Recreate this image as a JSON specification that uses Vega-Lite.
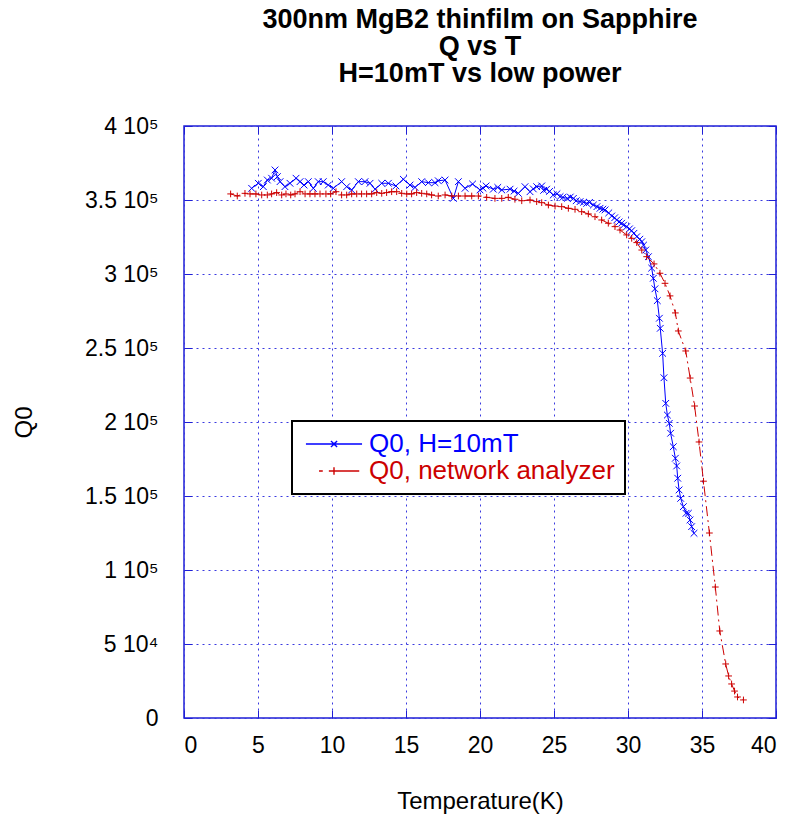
{
  "$schema": "https://vega.github.io/schema/vega-lite/v6.json",
  "width": 592,
  "height": 592,
  "autosize": {"type": "none"},
  "padding": {"left": 184, "top": 126, "right": 16, "bottom": 101},
  "background": "white",
  "title": {
    "text": ["300nm MgB2 thinfilm on Sapphire", "Q vs T", "H=10mT vs low power"],
    "font": "Liberation Sans", "fontSize": 27, "fontWeight": "bold", "lineHeight": 27,
    "anchor": "middle", "offset": 0, "baseline": "bottom", "color": "black"
  },
  "config": {
    "view": {"stroke": "#1f1fd6", "strokeWidth": 1.5},
    "axis": {
      "labelFont": "Liberation Sans", "titleFont": "Liberation Sans",
      "labelFontSize": 23, "titleFontSize": 24, "titleFontWeight": "normal",
      "labelColor": "black", "titleColor": "black",
      "domain": false, "tickColor": "#1f1fd6", "tickSize": -8, "tickWidth": 1,
      "gridColor": "#3a3ae0", "gridDash": [2, 4], "gridWidth": 1, "gridOpacity": 1
    },
    "legend": {"labelFont": "Liberation Sans", "labelFontSize": 26}
  },
  "data": {"values": [
    {"series": "Q0, H=10mT", "T": 4.57, "Q": 357900},
    {"series": "Q0, H=10mT", "T": 5.02, "Q": 361300},
    {"series": "Q0, H=10mT", "T": 5.36, "Q": 359000},
    {"series": "Q0, H=10mT", "T": 5.63, "Q": 363500},
    {"series": "Q0, H=10mT", "T": 5.92, "Q": 364700},
    {"series": "Q0, H=10mT", "T": 6.15, "Q": 370300},
    {"series": "Q0, H=10mT", "T": 6.31, "Q": 365800},
    {"series": "Q0, H=10mT", "T": 6.49, "Q": 362400},
    {"series": "Q0, H=10mT", "T": 6.82, "Q": 359000},
    {"series": "Q0, H=10mT", "T": 7.16, "Q": 361300},
    {"series": "Q0, H=10mT", "T": 7.57, "Q": 364700},
    {"series": "Q0, H=10mT", "T": 7.84, "Q": 362400},
    {"series": "Q0, H=10mT", "T": 8.11, "Q": 360100},
    {"series": "Q0, H=10mT", "T": 8.40, "Q": 362400},
    {"series": "Q0, H=10mT", "T": 8.74, "Q": 357900},
    {"series": "Q0, H=10mT", "T": 9.07, "Q": 362400},
    {"series": "Q0, H=10mT", "T": 9.41, "Q": 362400},
    {"series": "Q0, H=10mT", "T": 9.75, "Q": 360100},
    {"series": "Q0, H=10mT", "T": 10.09, "Q": 357900},
    {"series": "Q0, H=10mT", "T": 10.65, "Q": 362400},
    {"series": "Q0, H=10mT", "T": 10.99, "Q": 359000},
    {"series": "Q0, H=10mT", "T": 11.33, "Q": 356800},
    {"series": "Q0, H=10mT", "T": 11.78, "Q": 362400},
    {"series": "Q0, H=10mT", "T": 12.23, "Q": 362400},
    {"series": "Q0, H=10mT", "T": 12.57, "Q": 361300},
    {"series": "Q0, H=10mT", "T": 12.91, "Q": 357300},
    {"series": "Q0, H=10mT", "T": 13.36, "Q": 361300},
    {"series": "Q0, H=10mT", "T": 13.81, "Q": 361300},
    {"series": "Q0, H=10mT", "T": 14.32, "Q": 359500},
    {"series": "Q0, H=10mT", "T": 14.82, "Q": 364000},
    {"series": "Q0, H=10mT", "T": 15.27, "Q": 360100},
    {"series": "Q0, H=10mT", "T": 15.61, "Q": 358500},
    {"series": "Q0, H=10mT", "T": 16.06, "Q": 362400},
    {"series": "Q0, H=10mT", "T": 16.51, "Q": 361700},
    {"series": "Q0, H=10mT", "T": 16.96, "Q": 361700},
    {"series": "Q0, H=10mT", "T": 17.18, "Q": 363000},
    {"series": "Q0, H=10mT", "T": 17.64, "Q": 363500},
    {"series": "Q0, H=10mT", "T": 18.20, "Q": 351100},
    {"series": "Q0, H=10mT", "T": 18.54, "Q": 362400},
    {"series": "Q0, H=10mT", "T": 18.99, "Q": 357900},
    {"series": "Q0, H=10mT", "T": 19.50, "Q": 360800},
    {"series": "Q0, H=10mT", "T": 20.00, "Q": 356800},
    {"series": "Q0, H=10mT", "T": 20.20, "Q": 358000},
    {"series": "Q0, H=10mT", "T": 20.41, "Q": 359500},
    {"series": "Q0, H=10mT", "T": 20.90, "Q": 357300},
    {"series": "Q0, H=10mT", "T": 21.20, "Q": 358500},
    {"series": "Q0, H=10mT", "T": 21.47, "Q": 356800},
    {"series": "Q0, H=10mT", "T": 22.03, "Q": 357300},
    {"series": "Q0, H=10mT", "T": 22.30, "Q": 356000},
    {"series": "Q0, H=10mT", "T": 22.59, "Q": 354500},
    {"series": "Q0, H=10mT", "T": 23.04, "Q": 359000},
    {"series": "Q0, H=10mT", "T": 23.38, "Q": 355600},
    {"series": "Q0, H=10mT", "T": 23.60, "Q": 357500},
    {"series": "Q0, H=10mT", "T": 23.83, "Q": 359000},
    {"series": "Q0, H=10mT", "T": 24.17, "Q": 359500},
    {"series": "Q0, H=10mT", "T": 24.30, "Q": 356500},
    {"series": "Q0, H=10mT", "T": 24.50, "Q": 357300},
    {"series": "Q0, H=10mT", "T": 24.70, "Q": 355800},
    {"series": "Q0, H=10mT", "T": 24.95, "Q": 353400},
    {"series": "Q0, H=10mT", "T": 25.20, "Q": 354200},
    {"series": "Q0, H=10mT", "T": 25.41, "Q": 352300},
    {"series": "Q0, H=10mT", "T": 25.60, "Q": 351800},
    {"series": "Q0, H=10mT", "T": 25.90, "Q": 351100},
    {"series": "Q0, H=10mT", "T": 26.10, "Q": 352000},
    {"series": "Q0, H=10mT", "T": 26.31, "Q": 351100},
    {"series": "Q0, H=10mT", "T": 26.50, "Q": 349500},
    {"series": "Q0, H=10mT", "T": 26.76, "Q": 348900},
    {"series": "Q0, H=10mT", "T": 27.00, "Q": 348500},
    {"series": "Q0, H=10mT", "T": 27.21, "Q": 347700},
    {"series": "Q0, H=10mT", "T": 27.40, "Q": 348400},
    {"series": "Q0, H=10mT", "T": 27.66, "Q": 346600},
    {"series": "Q0, H=10mT", "T": 27.90, "Q": 345500},
    {"series": "Q0, H=10mT", "T": 28.11, "Q": 344400},
    {"series": "Q0, H=10mT", "T": 28.30, "Q": 343800},
    {"series": "Q0, H=10mT", "T": 28.45, "Q": 343300},
    {"series": "Q0, H=10mT", "T": 28.70, "Q": 341300},
    {"series": "Q0, H=10mT", "T": 28.90, "Q": 339200},
    {"series": "Q0, H=10mT", "T": 29.10, "Q": 338000},
    {"series": "Q0, H=10mT", "T": 29.24, "Q": 336500},
    {"series": "Q0, H=10mT", "T": 29.40, "Q": 335200},
    {"series": "Q0, H=10mT", "T": 29.57, "Q": 334300},
    {"series": "Q0, H=10mT", "T": 29.70, "Q": 333000},
    {"series": "Q0, H=10mT", "T": 29.91, "Q": 332000},
    {"series": "Q0, H=10mT", "T": 30.10, "Q": 330500},
    {"series": "Q0, H=10mT", "T": 30.25, "Q": 329300},
    {"series": "Q0, H=10mT", "T": 30.40, "Q": 327500},
    {"series": "Q0, H=10mT", "T": 30.59, "Q": 325200},
    {"series": "Q0, H=10mT", "T": 30.80, "Q": 323500},
    {"series": "Q0, H=10mT", "T": 30.93, "Q": 321800},
    {"series": "Q0, H=10mT", "T": 31.05, "Q": 319500},
    {"series": "Q0, H=10mT", "T": 31.20, "Q": 316200},
    {"series": "Q0, H=10mT", "T": 31.38, "Q": 311700},
    {"series": "Q0, H=10mT", "T": 31.60, "Q": 304000},
    {"series": "Q0, H=10mT", "T": 31.71, "Q": 297100},
    {"series": "Q0, H=10mT", "T": 31.82, "Q": 290000},
    {"series": "Q0, H=10mT", "T": 31.98, "Q": 282000},
    {"series": "Q0, H=10mT", "T": 32.12, "Q": 270100},
    {"series": "Q0, H=10mT", "T": 32.18, "Q": 263300},
    {"series": "Q0, H=10mT", "T": 32.34, "Q": 246400},
    {"series": "Q0, H=10mT", "T": 32.43, "Q": 229900},
    {"series": "Q0, H=10mT", "T": 32.55, "Q": 212600},
    {"series": "Q0, H=10mT", "T": 32.66, "Q": 204700},
    {"series": "Q0, H=10mT", "T": 32.79, "Q": 199100},
    {"series": "Q0, H=10mT", "T": 32.88, "Q": 192400},
    {"series": "Q0, H=10mT", "T": 33.06, "Q": 183300},
    {"series": "Q0, H=10mT", "T": 33.20, "Q": 175500},
    {"series": "Q0, H=10mT", "T": 33.29, "Q": 170300},
    {"series": "Q0, H=10mT", "T": 33.36, "Q": 162000},
    {"series": "Q0, H=10mT", "T": 33.45, "Q": 154100},
    {"series": "Q0, H=10mT", "T": 33.56, "Q": 148400},
    {"series": "Q0, H=10mT", "T": 33.74, "Q": 142800},
    {"series": "Q0, H=10mT", "T": 33.92, "Q": 138300},
    {"series": "Q0, H=10mT", "T": 34.08, "Q": 138300},
    {"series": "Q0, H=10mT", "T": 34.19, "Q": 133800},
    {"series": "Q0, H=10mT", "T": 34.30, "Q": 129300},
    {"series": "Q0, H=10mT", "T": 34.46, "Q": 124800},
    {"series": "Q0, network analyzer", "T": 3.15, "Q": 354100},
    {"series": "Q0, network analyzer", "T": 3.60, "Q": 352700},
    {"series": "Q0, network analyzer", "T": 4.12, "Q": 354500},
    {"series": "Q0, network analyzer", "T": 4.46, "Q": 354100},
    {"series": "Q0, network analyzer", "T": 4.86, "Q": 354100},
    {"series": "Q0, network analyzer", "T": 5.25, "Q": 353400},
    {"series": "Q0, network analyzer", "T": 5.63, "Q": 353400},
    {"series": "Q0, network analyzer", "T": 5.92, "Q": 354100},
    {"series": "Q0, network analyzer", "T": 6.26, "Q": 355000},
    {"series": "Q0, network analyzer", "T": 6.60, "Q": 353400},
    {"series": "Q0, network analyzer", "T": 6.89, "Q": 354100},
    {"series": "Q0, network analyzer", "T": 7.21, "Q": 353400},
    {"series": "Q0, network analyzer", "T": 7.50, "Q": 354100},
    {"series": "Q0, network analyzer", "T": 7.84, "Q": 355600},
    {"series": "Q0, network analyzer", "T": 8.18, "Q": 354100},
    {"series": "Q0, network analyzer", "T": 8.51, "Q": 354100},
    {"series": "Q0, network analyzer", "T": 8.85, "Q": 354100},
    {"series": "Q0, network analyzer", "T": 9.19, "Q": 354100},
    {"series": "Q0, network analyzer", "T": 9.59, "Q": 354100},
    {"series": "Q0, network analyzer", "T": 9.91, "Q": 354100},
    {"series": "Q0, network analyzer", "T": 10.27, "Q": 355600},
    {"series": "Q0, network analyzer", "T": 10.65, "Q": 353400},
    {"series": "Q0, network analyzer", "T": 10.99, "Q": 353400},
    {"series": "Q0, network analyzer", "T": 11.33, "Q": 354100},
    {"series": "Q0, network analyzer", "T": 11.67, "Q": 354100},
    {"series": "Q0, network analyzer", "T": 12.00, "Q": 354100},
    {"series": "Q0, network analyzer", "T": 12.34, "Q": 354100},
    {"series": "Q0, network analyzer", "T": 12.68, "Q": 354100},
    {"series": "Q0, network analyzer", "T": 13.02, "Q": 355000},
    {"series": "Q0, network analyzer", "T": 13.36, "Q": 354500},
    {"series": "Q0, network analyzer", "T": 13.69, "Q": 355000},
    {"series": "Q0, network analyzer", "T": 14.03, "Q": 355600},
    {"series": "Q0, network analyzer", "T": 14.37, "Q": 355600},
    {"series": "Q0, network analyzer", "T": 14.71, "Q": 354500},
    {"series": "Q0, network analyzer", "T": 15.05, "Q": 354100},
    {"series": "Q0, network analyzer", "T": 15.38, "Q": 354100},
    {"series": "Q0, network analyzer", "T": 15.72, "Q": 355000},
    {"series": "Q0, network analyzer", "T": 16.06, "Q": 354500},
    {"series": "Q0, network analyzer", "T": 16.40, "Q": 354100},
    {"series": "Q0, network analyzer", "T": 16.73, "Q": 353400},
    {"series": "Q0, network analyzer", "T": 17.18, "Q": 352700},
    {"series": "Q0, network analyzer", "T": 17.64, "Q": 353400},
    {"series": "Q0, network analyzer", "T": 18.09, "Q": 352700},
    {"series": "Q0, network analyzer", "T": 18.54, "Q": 352700},
    {"series": "Q0, network analyzer", "T": 18.99, "Q": 352700},
    {"series": "Q0, network analyzer", "T": 19.44, "Q": 352700},
    {"series": "Q0, network analyzer", "T": 19.89, "Q": 352700},
    {"series": "Q0, network analyzer", "T": 20.45, "Q": 351800},
    {"series": "Q0, network analyzer", "T": 21.01, "Q": 351100},
    {"series": "Q0, network analyzer", "T": 21.47, "Q": 351100},
    {"series": "Q0, network analyzer", "T": 21.91, "Q": 351800},
    {"series": "Q0, network analyzer", "T": 22.36, "Q": 350500},
    {"series": "Q0, network analyzer", "T": 22.82, "Q": 349500},
    {"series": "Q0, network analyzer", "T": 23.38, "Q": 350000},
    {"series": "Q0, network analyzer", "T": 23.83, "Q": 348900},
    {"series": "Q0, network analyzer", "T": 24.17, "Q": 348200},
    {"series": "Q0, network analyzer", "T": 24.62, "Q": 346600},
    {"series": "Q0, network analyzer", "T": 25.07, "Q": 345900},
    {"series": "Q0, network analyzer", "T": 25.52, "Q": 345500},
    {"series": "Q0, network analyzer", "T": 25.97, "Q": 344400},
    {"series": "Q0, network analyzer", "T": 26.42, "Q": 343700},
    {"series": "Q0, network analyzer", "T": 26.87, "Q": 342100},
    {"series": "Q0, network analyzer", "T": 27.32, "Q": 340600},
    {"series": "Q0, network analyzer", "T": 27.77, "Q": 338700},
    {"series": "Q0, network analyzer", "T": 28.22, "Q": 336500},
    {"series": "Q0, network analyzer", "T": 28.67, "Q": 334300},
    {"series": "Q0, network analyzer", "T": 29.12, "Q": 332000},
    {"series": "Q0, network analyzer", "T": 29.46, "Q": 329700},
    {"series": "Q0, network analyzer", "T": 29.91, "Q": 326400},
    {"series": "Q0, network analyzer", "T": 30.25, "Q": 324100},
    {"series": "Q0, network analyzer", "T": 30.59, "Q": 321200},
    {"series": "Q0, network analyzer", "T": 30.93, "Q": 316200},
    {"series": "Q0, network analyzer", "T": 31.26, "Q": 311700},
    {"series": "Q0, network analyzer", "T": 31.76, "Q": 306800},
    {"series": "Q0, network analyzer", "T": 32.16, "Q": 300500},
    {"series": "Q0, network analyzer", "T": 32.50, "Q": 293700},
    {"series": "Q0, network analyzer", "T": 32.84, "Q": 285200},
    {"series": "Q0, network analyzer", "T": 33.20, "Q": 273700},
    {"series": "Q0, network analyzer", "T": 33.40, "Q": 261500},
    {"series": "Q0, network analyzer", "T": 33.90, "Q": 248000},
    {"series": "Q0, network analyzer", "T": 34.20, "Q": 229700},
    {"series": "Q0, network analyzer", "T": 34.50, "Q": 210800},
    {"series": "Q0, network analyzer", "T": 34.80, "Q": 186500},
    {"series": "Q0, network analyzer", "T": 35.10, "Q": 160000},
    {"series": "Q0, network analyzer", "T": 35.50, "Q": 125000},
    {"series": "Q0, network analyzer", "T": 35.90, "Q": 88500},
    {"series": "Q0, network analyzer", "T": 36.20, "Q": 58800},
    {"series": "Q0, network analyzer", "T": 36.60, "Q": 36500},
    {"series": "Q0, network analyzer", "T": 36.80, "Q": 28400},
    {"series": "Q0, network analyzer", "T": 37.00, "Q": 23000},
    {"series": "Q0, network analyzer", "T": 37.20, "Q": 18200},
    {"series": "Q0, network analyzer", "T": 37.40, "Q": 14200},
    {"series": "Q0, network analyzer", "T": 37.80, "Q": 12200}
  ]},
  "layer": [
    {
      "transform": [{"filter": "datum.series === 'Q0, H=10mT'"}],
      "mark": {"type": "line", "strokeWidth": 1},
      "encoding": {
        "x": {"field": "T", "type": "quantitative",
              "scale": {"domain": [0, 40], "nice": false, "zero": false},
              "axis": {"orient": "bottom", "values": [0, 5, 10, 15, 20, 25, 30, 35, 40], "grid": true,
                       "labelPadding": 24, "title": "Temperature(K)", "titlePadding": 32}},
        "y": {"field": "Q", "type": "quantitative",
              "scale": {"domain": [0, 400000], "nice": false},
              "axis": {"orient": "left", "values": [0, 50000, 100000, 150000, 200000, 250000, 300000, 350000, 400000],
                       "grid": true, "labelPadding": 34, "title": "Q0", "titlePadding": 48,
                       "labelExpr": "datum.value == 0 ? '0' : (datum.value == 50000 ? '5 10⁴' : (datum.value / 100000) + ' 10⁵')"}},
        "color": {"field": "series", "type": "nominal",
                  "scale": {"domain": ["Q0, H=10mT", "Q0, network analyzer"], "range": ["#0000ff", "#cc0000"]},
                  "legend": {
                    "title": null, "orient": "none", "legendX": 108, "legendY": 295,
                    "strokeColor": "black", "padding": 10, "fillColor": "white",
                    "symbolSize": 350, "symbolOffset": 19, "labelOffset": 22, "rowPadding": 1,
                    "labelFontSize": 26, "labelFont": "Liberation Sans", "labelLimit": 500,
                    "encode": {
                      "legend": {"update": {"strokeWidth": {"value": 2}}},
                      "symbols": {"update": {
                        "shape": {"signal": "datum.value === 'Q0, H=10mT' ? 'M-3,0H3M-0.33,-0.33L0.33,0.33M-0.33,0.33L0.33,-0.33' : 'M-1.6,0H-1.2M-0.55,0H2.7M0,-0.4V0.4'"},
                        "stroke": {"signal": "datum.value === 'Q0, H=10mT' ? '#0000ff' : '#dd0000'"},
                        "fill": {"value": "transparent"},
                        "strokeWidth": {"value": 1.4},
                        "strokeDash": {"value": [1, 0]},
                        "opacity": {"value": 1},
                        "size": {"value": 350}
                      }},
                      "labels": {"update": {
                        "fill": {"signal": "datum.value === 'Q0, H=10mT' ? '#0000ff' : '#cc0000'"}
                      }}
                    }
                  }}
      }
    },
    {
      "transform": [{"filter": "datum.series === 'Q0, network analyzer'"}],
      "mark": {"type": "line", "strokeWidth": 1, "strokeDash": [10, 4, 2, 4]},
      "encoding": {
        "x": {"field": "T", "type": "quantitative", "axis": null},
        "y": {"field": "Q", "type": "quantitative", "axis": null},
        "color": {"field": "series", "type": "nominal"}
      }
    },
    {
      "transform": [{"filter": "datum.series === 'Q0, H=10mT'"}],
      "mark": {"type": "point", "filled": false, "strokeWidth": 1, "size": 45, "opacity": 1, "shape": "M-1,-1L1,1M-1,1L1,-1"},
      "encoding": {
        "x": {"field": "T", "type": "quantitative", "axis": null},
        "y": {"field": "Q", "type": "quantitative", "axis": null},
        "color": {"field": "series", "type": "nominal"}
      }
    },
    {
      "transform": [{"filter": "datum.series === 'Q0, network analyzer'"}],
      "mark": {"type": "point", "filled": false, "strokeWidth": 1, "size": 45, "opacity": 1, "shape": "M-1,0H1M0,-1V1"},
      "encoding": {
        "x": {"field": "T", "type": "quantitative",
              "axis": {"orient": "top", "values": [0, 5, 10, 15, 20, 25, 30, 35, 40], "grid": false, "labels": false, "title": null}},
        "y": {"field": "Q", "type": "quantitative",
              "axis": {"orient": "right", "values": [0, 50000, 100000, 150000, 200000, 250000, 300000, 350000, 400000], "grid": false, "labels": false, "title": null}},
        "color": {"field": "series", "type": "nominal"}
      }
    }
  ],
  "resolve": {"axis": {"x": "independent", "y": "independent"}}
}
